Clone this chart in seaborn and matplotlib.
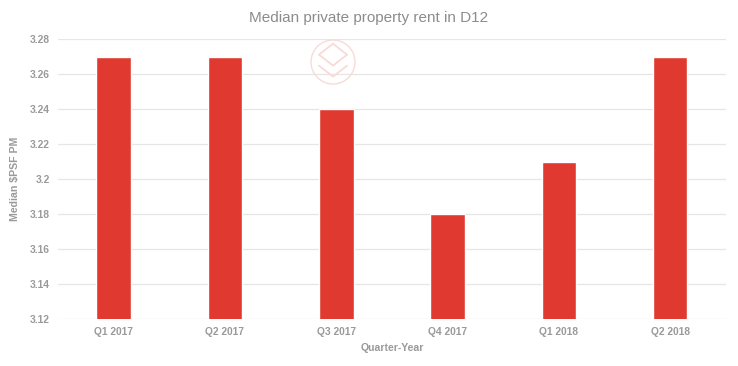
import pandas as pd
import seaborn as sns
import matplotlib.pyplot as plt
from matplotlib.patches import Ellipse

quarters = ["Q1 2017", "Q2 2017", "Q3 2017", "Q4 2017", "Q1 2018", "Q2 2018"]
rent_psf = [3.27, 3.27, 3.24, 3.18, 3.21, 3.27]
yticks = [3.12, 3.14, 3.16, 3.18, 3.2, 3.22, 3.24, 3.26, 3.28]
ytick_labels = ["3.12", "3.14", "3.16", "3.18", "3.2", "3.22", "3.24", "3.26", "3.28"]

df = pd.DataFrame({"quarter": quarters, "rent": rent_psf})

sns.set_theme(style="white")
plt.rcParams["font.family"] = ["Liberation Sans", "DejaVu Sans"]

fig = plt.figure(figsize=(7.38, 3.66), dpi=100)
ax = fig.add_axes([0.0786, 0.128, 0.905, 0.765])

# gridlines behind bars
for t in yticks:
    ax.axhline(t, color="#e6e6e6", lw=0.9, zorder=0)

sns.barplot(data=df, x="quarter", y="rent", color="#e03a30", saturation=1,
            width=0.31, ax=ax, zorder=2)

ax.set_ylim(3.12, 3.28)
ax.set_xlim(-0.5, 5.5)
ax.set_yticks(yticks)
ax.set_yticklabels(ytick_labels)
ax.tick_params(axis="both", length=0, labelsize=7.4, labelcolor="#9a9a9a", pad=6)
for lbl in ax.get_xticklabels() + ax.get_yticklabels():
    lbl.set_fontweight("bold")
for s in ax.spines.values():
    s.set_visible(False)

ax.set_xlabel("Quarter-Year", fontsize=7.6, color="#9a9a9a", fontweight="bold", labelpad=4)
ax.set_ylabel("Median $PSF PM", fontsize=7.6, color="#9a9a9a", fontweight="bold", labelpad=7)
fig.text(0.5, 0.952, "Median private property rent in D12", ha="center", va="center",
         fontsize=11, color="#8c8c8c")

# faint watermark logo
cx, cy = 333 / 738, 1 - 62 / 366
wm = "#f8dbd7"
fig.patches.append(Ellipse((cx, cy), 44 / 738, 44 / 366, transform=fig.transFigure,
                           fill=False, ec=wm, lw=1.0, zorder=3))
for dy in (-0.04, -0.01):
    fig.lines.append(plt.Line2D([cx - 0.019, cx, cx + 0.019], [cy + dy + 0.03, cy + dy, cy + dy + 0.03],
                                transform=fig.transFigure, color=wm, lw=1.3, zorder=3))
fig.lines.append(plt.Line2D([cx - 0.019, cx, cx + 0.019], [cy + 0.02, cy + 0.05, cy + 0.02],
                            transform=fig.transFigure, color=wm, lw=1.3, zorder=3))

fig.savefig("out.png", dpi=100)
